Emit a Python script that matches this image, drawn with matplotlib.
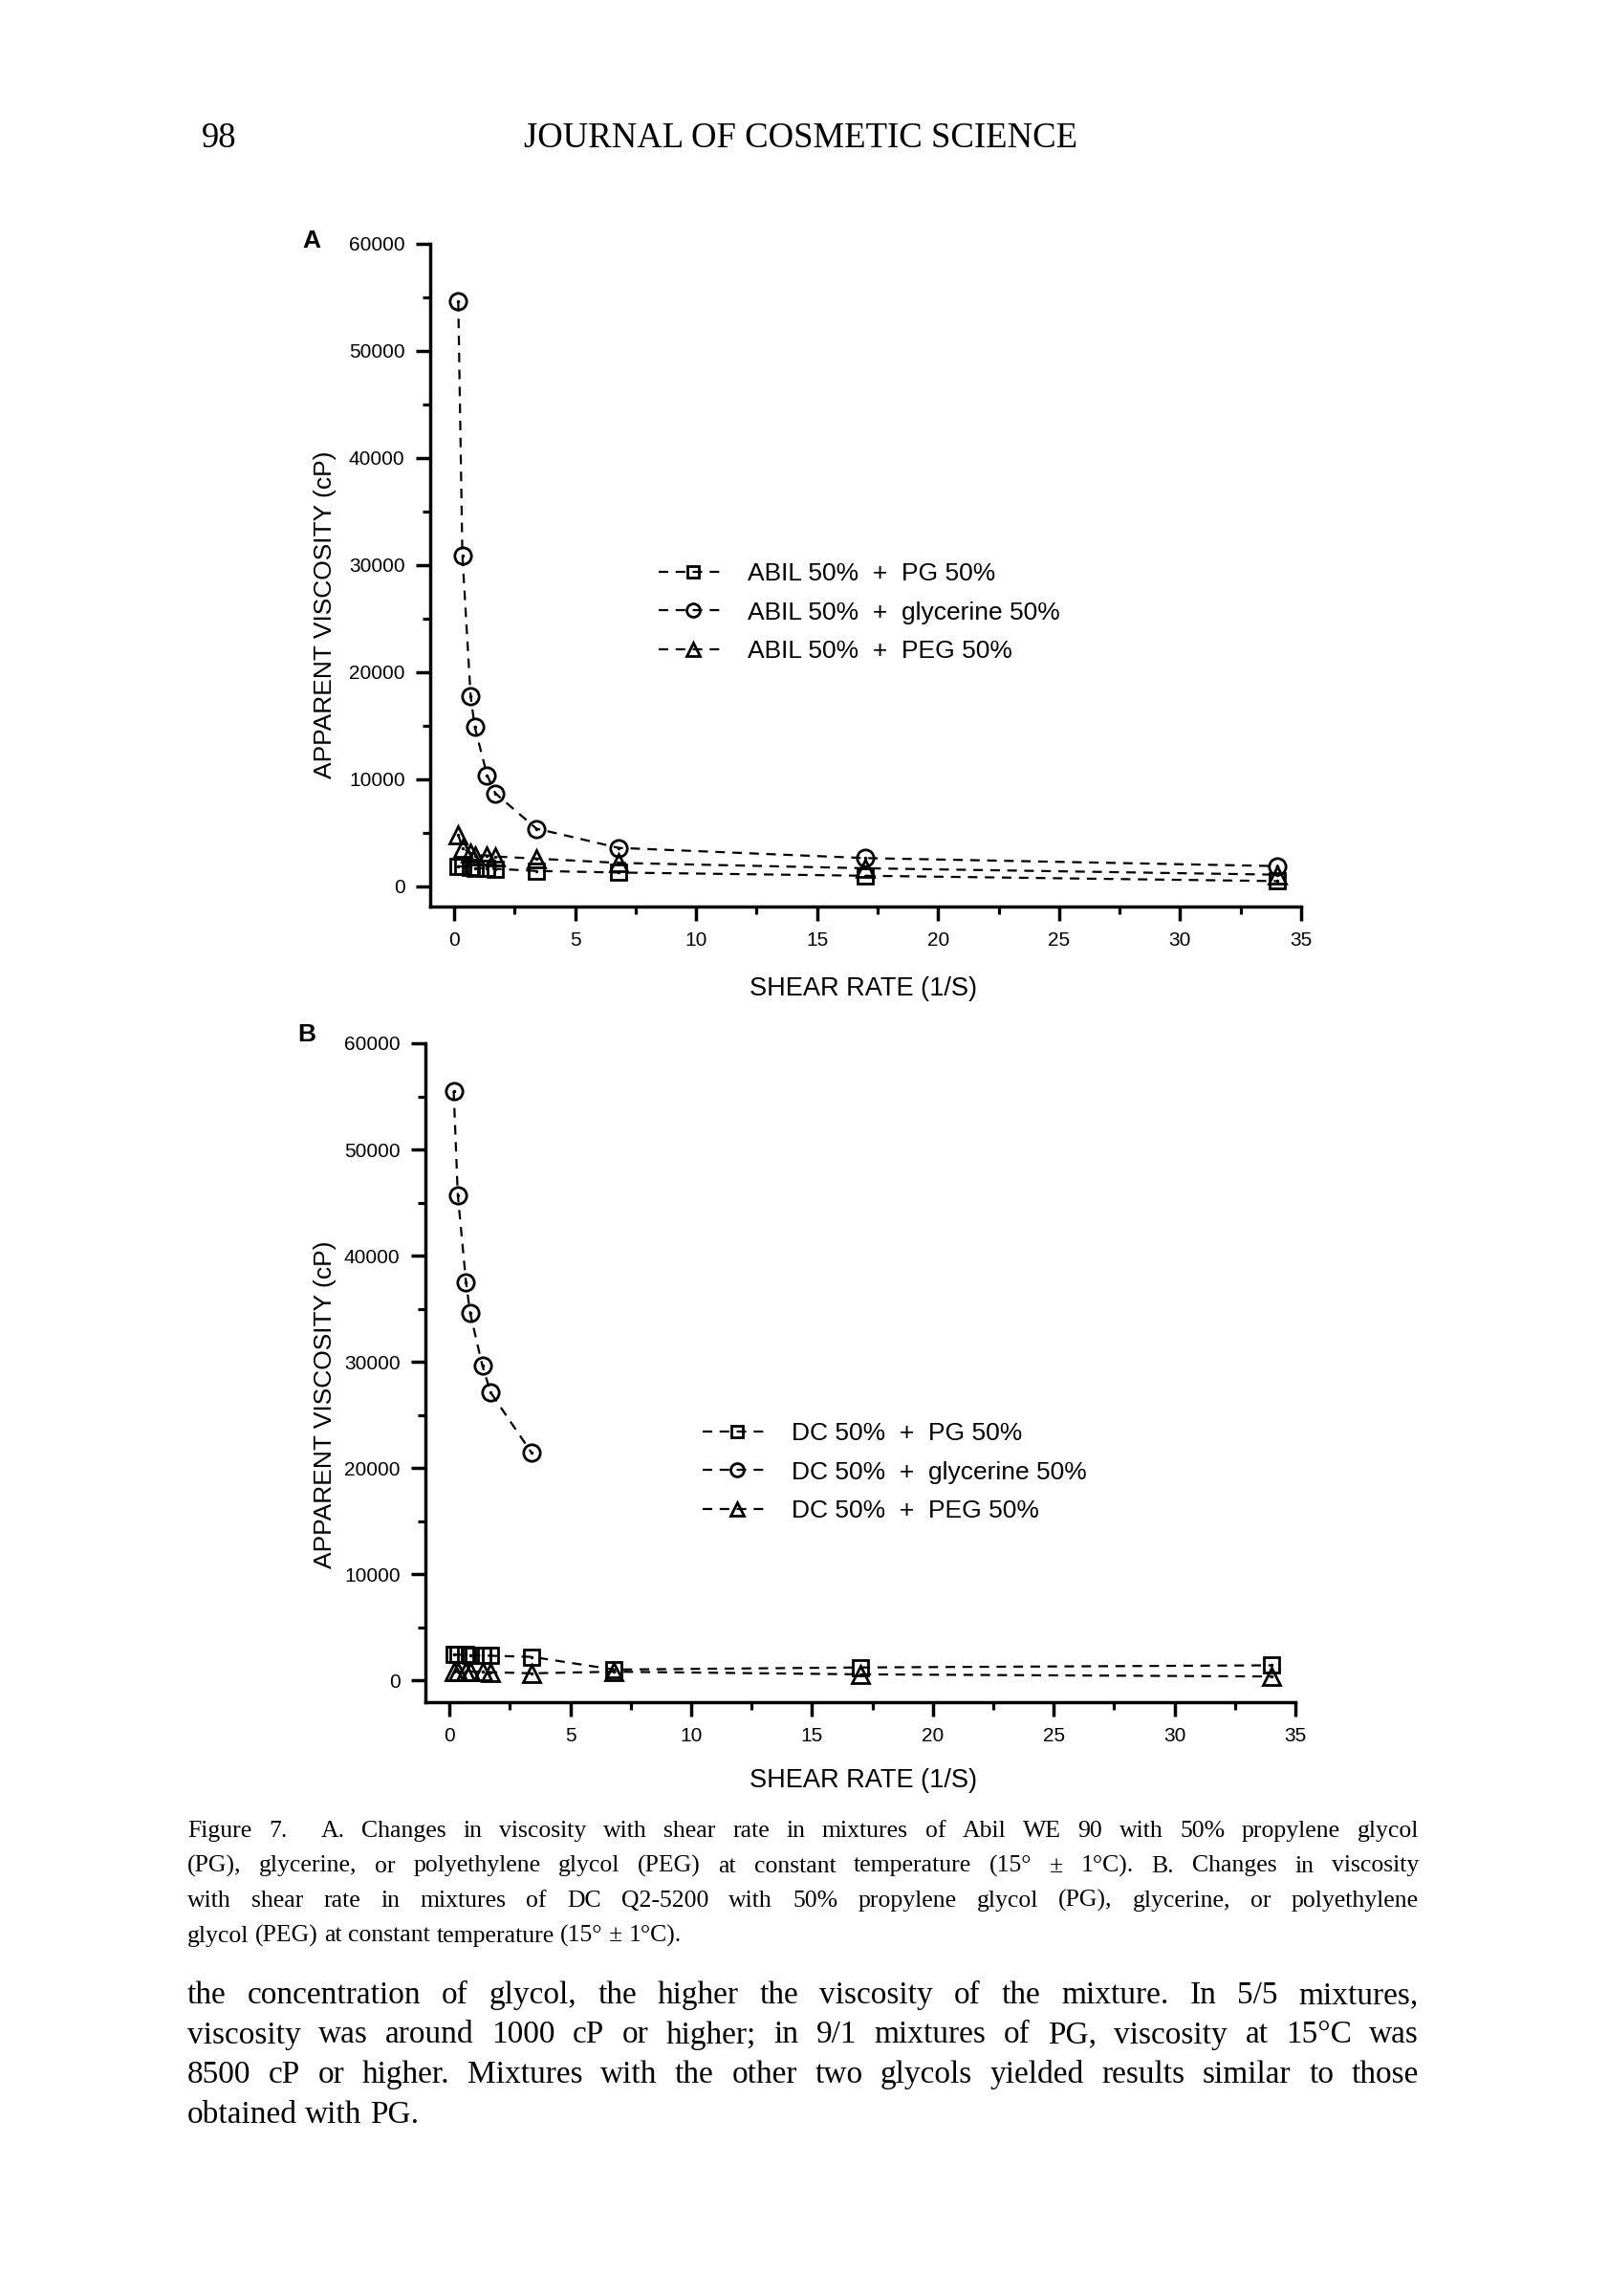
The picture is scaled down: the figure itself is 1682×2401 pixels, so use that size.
import matplotlib
matplotlib.use("Agg")
import matplotlib.pyplot as plt
from matplotlib.transforms import IdentityTransform

# shear rates (1/S)
rate = [0.17, 0.34, 0.68, 0.85, 1.36, 1.7, 3.4, 6.8, 17, 34]

# panel A - Abil WE 90
abil_pg   = [1900, 1850, 1750, 1700, 1700, 1650, 1450, 1300, 1000, 500]
abil_gly  = [54600, 30900, 17800, 14900, 10400, 8700, 5400, 3600, 2650, 1900]
abil_peg  = [4800, 3600, 3100, 2900, 2900, 2800, 2600, 2200, 1700, 1100]

# panel B - DC Q2-5200
rate_gly_b = [0.17, 0.34, 0.68, 0.85, 1.36, 1.7, 3.4]
dc_pg  = [2400, 2400, 2400, 2350, 2350, 2300, 2200, 1000, 1200, 1400]
dc_gly = [55500, 45700, 37500, 34600, 29600, 27100, 21400]
dc_peg = [800, 800, 800, 800, 800, 750, 650, 800, 550, 350]

labels_a = ["ABIL 50%  +  PG 50%", "ABIL 50%  +  glycerine 50%", "ABIL 50%  +  PEG 50%"]
labels_b = ["DC 50%  +  PG 50%", "DC 50%  +  glycerine 50%", "DC 50%  +  PEG 50%"]

W, H = 1683, 2401
fig = plt.figure(figsize=(W / 100, H / 100), dpi=100)
PIX = IdentityTransform()
SANS = "Liberation Sans"
SERIF = "Liberation Serif"


def ptext(x, y, s, **kw):
    # x, y in image pixels measured from top-left
    return fig.text(x, H - y, s, transform=PIX, **kw)


def make_axes(left, right, bottom, top, xmin, ymin):
    ax = fig.add_axes([left / W, 1 - bottom / H, (right - left) / W, (bottom - top) / H])
    ax.set_xlim(xmin, 35)
    ax.set_ylim(ymin, 60000)
    for s in ["top", "right"]:
        ax.spines[s].set_visible(False)
    for s in ["left", "bottom"]:
        ax.spines[s].set_linewidth(2.5)
    ax.set_xticks(range(0, 36, 5))
    ax.set_xticks([2.5 + 5 * i for i in range(7)], minor=True)
    ax.set_yticks(range(0, 60001, 10000))
    ax.set_yticks(range(5000, 60000, 10000), minor=True)
    ax.tick_params(which="major", direction="out", length=11, width=2.5,
                   labelsize=15, pad=8)
    ax.tick_params(which="minor", direction="out", length=6, width=2.3)
    for lab in ax.get_xticklabels() + ax.get_yticklabels():
        lab.set_family(SANS)
    return ax


def series(ax, x, y, marker, label, ms):
    ax.plot(x, y, color="black", linestyle=(0, (4.5, 3.5)), linewidth=1.6,
            marker=marker, markersize=ms, markerfacecolor="none",
            markeredgecolor="black", markeredgewidth=2.0, label=label)
    ax.plot(x, y, linestyle="none", marker=".", markersize=3, color="black")


def legend(ax, x, y):
    leg = ax.legend(loc="upper left", bbox_to_anchor=(x / W, 1 - y / H),
                    bbox_transform=fig.transFigure, frameon=False,
                    prop={"family": SANS, "size": 19}, handlelength=2.7,
                    handletextpad=0.8, labelspacing=0.62, borderpad=0,
                    markerscale=0.8)
    return leg


# ---- panel A
ax1 = make_axes(450, 1361, 948, 255, -0.99, -1875)
series(ax1, rate, abil_pg, "s", labels_a[0], 11)
series(ax1, rate, abil_gly, "o", labels_a[1], 12.5)
series(ax1, rate, abil_peg, "^", labels_a[2], 13)
legend(ax1, 676, 575)

# ---- panel B
ax2 = make_axes(445, 1355, 1780, 1091, -1.0, -2070)
series(ax2, rate, dc_pg, "s", labels_b[0], 11)
series(ax2, rate_gly_b, dc_gly, "o", labels_b[1], 12.5)
series(ax2, rate, dc_peg, "^", labels_b[2], 13)
legend(ax2, 722, 1474)

# axis titles and panel letters
ptext(326, 252, "A", family=SANS, weight="bold", size=19, ha="center", va="center")
ptext(321, 1082, "B", family=SANS, weight="bold", size=19, ha="center", va="center")
ptext(340, 643, "APPARENT VISCOSITY (cP)", family=SANS, size=19, rotation=90,
      ha="center", va="center")
ptext(340, 1469, "APPARENT VISCOSITY (cP)", family=SANS, size=19, rotation=90,
      ha="center", va="center")
ptext(903, 1034, "SHEAR RATE (1/S)", family=SANS, size=19.5, ha="center", va="center")
ptext(903, 1862, "SHEAR RATE (1/S)", family=SANS, size=19.5, ha="center", va="center")

# page header
ptext(229, 145, "98", family=SERIF, size=26.5, ha="center", va="center")
ptext(838, 145, "JOURNAL OF COSMETIC SCIENCE", family=SERIF, size=26.5,
      ha="center", va="center")

# justified page text
renderer = fig.canvas.get_renderer()


def justified(y, line, size, x0=196, x1=1484, full=True):
    words = line.split(" ")
    arts = [ptext(0, y, w, family=SERIF, size=size, ha="left", va="baseline") for w in words]
    widths = [a.get_window_extent(renderer).width for a in arts]
    probe2 = ptext(0, y, "a a", family=SERIF, size=size)
    probe1 = ptext(0, y, "a", family=SERIF, size=size)
    space = probe2.get_window_extent(renderer).width - 2 * probe1.get_window_extent(renderer).width
    probe2.remove()
    probe1.remove()
    if full and len(words) > 1:
        gap = (x1 - x0 - sum(widths)) / (len(words) - 1)
    else:
        gap = space
    x = x0
    for a, w in zip(arts, widths):
        a.set_position((x, H - y))
        x += w + gap


caption = [
    "Figure 7.  A. Changes in viscosity with shear rate in mixtures of Abil WE 90 with 50% propylene glycol",
    "(PG), glycerine, or polyethylene glycol (PEG) at constant temperature (15° ± 1°C). B. Changes in viscosity",
    "with shear rate in mixtures of DC Q2-5200 with 50% propylene glycol (PG), glycerine, or polyethylene",
    "glycol (PEG) at constant temperature (15° ± 1°C).",
]
body = [
    "the concentration of glycol, the higher the viscosity of the mixture. In 5/5 mixtures,",
    "viscosity was around 1000 cP or higher; in 9/1 mixtures of PG, viscosity at 15°C was",
    "8500 cP or higher. Mixtures with the other two glycols yielded results similar to those",
    "obtained with PG.",
]
for i, line in enumerate(caption):
    justified(1921 + 36.5 * i, line, 18.5, full=(i < len(caption) - 1))
for i, line in enumerate(body):
    justified(2095 + 41.5 * i, line, 24, full=(i < len(body) - 1))

fig.savefig("out.png", dpi=100)
